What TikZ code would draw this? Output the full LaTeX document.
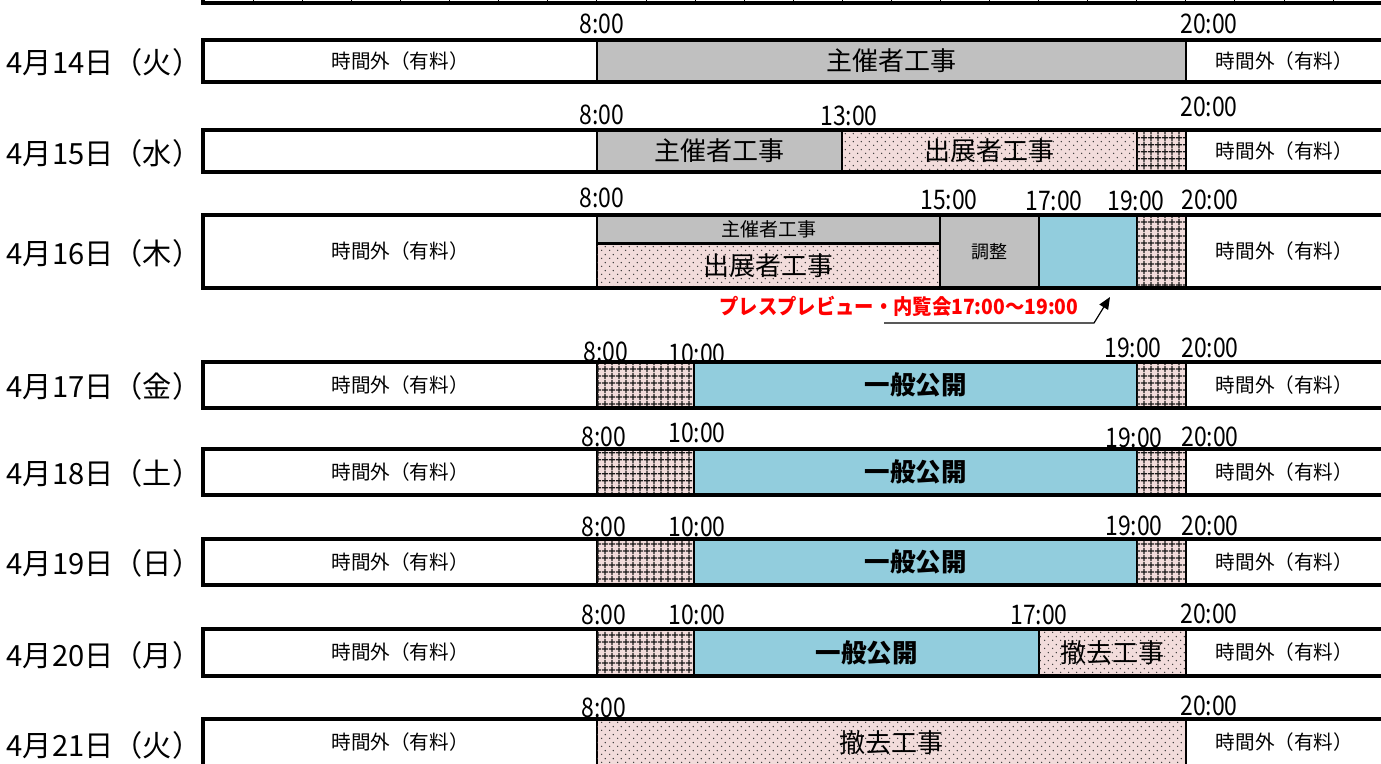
\documentclass[tikz,border=0pt]{standalone}
\usepackage{fontspec}
\setmainfont{Noto Sans CJK JP}
\usetikzlibrary{fit,patterns,arrows.meta}
\definecolor{orggrey}{RGB}{192,192,192}
\definecolor{pubblue}{RGB}{146,205,221}
\definecolor{pinkbg}{RGB}{242,220,219}
\definecolor{pressred}{RGB}{255,0,0}
\pgfdeclarepatternformonly{sdots}{\pgfqpoint{0pt}{0pt}}{\pgfqpoint{3.75pt}{3.75pt}}{\pgfqpoint{3.75pt}{3.75pt}}{%
 \pgfpathcircle{\pgfqpoint{0.9pt}{0.9pt}}{0.38pt}%
 \pgfpathcircle{\pgfqpoint{2.8pt}{2.8pt}}{0.38pt}%
 \pgfusepath{fill}}
\pgfdeclarepatternformonly{sgrid}{\pgfqpoint{0pt}{0pt}}{\pgfqpoint{3.5pt}{3.5pt}}{\pgfqpoint{3.5pt}{3.5pt}}{%
 \pgfsetlinewidth{0.7pt}%
 \pgfpathmoveto{\pgfqpoint{0pt}{1.75pt}}\pgfpathlineto{\pgfqpoint{3.5pt}{1.75pt}}%
 \pgfpathmoveto{\pgfqpoint{1.75pt}{0pt}}\pgfpathlineto{\pgfqpoint{1.75pt}{3.5pt}}%
 \pgfusepath{stroke}}
\newcommand\tmx[1]{\scalebox{0.85}[1]{#1}}
\begin{document}
\begin{tikzpicture}[x=0.5pt,y=-0.5pt,
  seg/.style={draw=black, line width=0.6pt, inner sep=0pt},
  rowbox/.style={draw=black, line width=1.6pt, inner sep=0pt},
  offt/.style={inner sep=0pt, font=\fontsize{9.8pt}{11pt}\selectfont},
  org/.style={seg, fill=orggrey},
  exh/.style={seg, fill=pinkbg, postaction={pattern=sdots, pattern color=black!80}},
  hatch/.style={seg, fill=pinkbg, postaction={pattern=sgrid, pattern color=black!90}},
  pub/.style={seg, fill=pubblue},
  big/.style={inner sep=0pt, font=\fontsize{13pt}{15pt}\selectfont},
  pubtxt/.style={inner sep=0pt, font=\fontsize{12.75pt}{15pt}\selectfont\bfseries},
  smallt/.style={inner sep=0pt, font=\fontsize{9.5pt}{11pt}\selectfont},
  date/.style={inner sep=0pt, font=\fontsize{14.6pt}{17pt}\selectfont},
  tm/.style={anchor=base, inner sep=0pt, font=\fontsize{13.5pt}{16pt}\selectfont},
  press/.style={inner sep=0pt, text=pressred, font=\fontsize{10.5pt}{12pt}\selectfont\bfseries}
]
\useasboundingbox (0,0) rectangle (1381,764);
\begin{scope}
\clip (0,0) rectangle (1381,764);
% partial previous row at the top
\coordinate (pa) at (203,-20);
\coordinate (pb) at (203,3);
\coordinate (pc) at (1400,3);
\draw[line width=1.6pt] (pa) -- (pb) -- (pc);
\foreach \k in {1,...,24}{
  \draw[line width=0.5pt] ({204.3+49.08*\k},-2) -- ({204.3+49.08*\k},3);
}

% ---------- Row 1 : 4/14
\node[date] (d1) at (104,62) {4月14日（火）};
\node[seg, fit={(203,40)(597,82)}, label={[offt]center:時間外（有料）}] (r1a) {};
\node[org, fit={(597,40)(1186,82)}, label={[big]center:主催者工事}] (r1b) {};
\node[seg, fit={(1186,40)(1383,82)}, label={[offt]center:時間外（有料）}] (r1c) {};
\node[rowbox, fit={(203,40)(1383,82)}] (row1) {};
\node[tm] (t1a) at (602,34) {\tmx{8:00}};
\node[tm] (t1b) at (1209,34) {\tmx{20:00}};

% ---------- Row 2 : 4/15
\node[date] (d2) at (104,153) {4月15日（水）};
\node[seg, fit={(203,130)(597,172)}] (r2a) {};
\node[org, fit={(597,130)(842,172)}, label={[big]center:主催者工事}] (r2b) {};
\node[exh, fit={(842,130)(1137,172)}, label={[big]center:出展者工事}] (r2c) {};
\node[hatch, fit={(1137,130)(1186,172)}] (r2d) {};
\node[seg, fit={(1186,130)(1383,172)}, label={[offt]center:時間外（有料）}] (r2e) {};
\node[rowbox, fit={(203,130)(1383,172)}] (row2) {};
\node[tm] (t2a) at (602,125) {\tmx{8:00}};
\node[tm] (t2b) at (849,126) {\tmx{13:00}};
\node[tm] (t2c) at (1209,117) {\tmx{20:00}};

% ---------- Row 3 : 4/16
\node[date] (d3) at (104,253) {4月16日（木）};
\node[seg, fit={(203,215)(597,288)}, label={[offt]center:時間外（有料）}] (r3a) {};
\node[org, fit={(597,215)(940,243)}, label={[smallt]center:主催者工事}] (r3b) {};
\node[exh, fit={(597,243)(940,288)}, label={[big]center:出展者工事}] (r3c) {};
\draw[line width=1.1pt] (r3b.south west) -- (r3b.south east);
\node[org, fit={(940,215)(1039,288)}, label={[offt, font=\fontsize{9pt}{11pt}\selectfont]center:調整}] (r3d) {};
\node[pub, fit={(1039,215)(1137,288)}] (r3e) {};
\node[hatch, fit={(1137,215)(1186,288)}] (r3f) {};
\node[seg, fit={(1186,215)(1383,288)}, label={[offt]center:時間外（有料）}] (r3g) {};
\node[rowbox, fit={(203,215)(1383,288)}] (row3) {};
\node[tm] (t3a) at (602,208) {\tmx{8:00}};
\node[tm] (t3b) at (949,210) {\tmx{15:00}};
\node[tm] (t3c) at (1054,211) {\tmx{17:00}};
\node[tm] (t3d) at (1136,211) {\tmx{19:00}};
\node[tm] (t3e) at (1210,210) {\tmx{20:00}};
% press preview annotation
\node[press] (pr) at (899,306) {\scalebox{0.92}[1]{プレスプレビュー・内覧会17:00～19:00}};
\coordinate (as) at (884,323);
\coordinate (am) at (1094,323);
\coordinate (at) at (1110,297);
\draw[line width=0.6pt, -{Triangle[length=6pt,width=5pt]}] (as) -- (am) -- (at);

% ---------- Rows 4-6 : 4/17 - 4/19 (public days)
\node[date] (d4) at (104,386) {4月17日（金）};
\node[seg, fit={(203,362)(597,408)}, label={[offt]center:時間外（有料）}] (r4a) {};
\node[hatch, fit={(597,362)(694,408)}] (r4b) {};
\node[pub, fit={(694,362)(1137,408)}, label={[pubtxt]center:一般公開}] (r4c) {};
\node[hatch, fit={(1137,362)(1186,408)}] (r4d) {};
\node[seg, fit={(1186,362)(1383,408)}, label={[offt]center:時間外（有料）}] (r4e) {};
\node[rowbox, fit={(203,362)(1383,408)}] (row4) {};
\node[tm] (t4a) at (606,362) {\tmx{8:00}};
\node[tm] (t4b) at (697,364) {\tmx{10:00}};
\node[tm] (t4c) at (1133,358) {\tmx{19:00}};
\node[tm] (t4d) at (1210,358) {\tmx{20:00}};

\node[date] (d5) at (104,473) {4月18日（土）};
\node[seg, fit={(203,449)(597,495)}, label={[offt]center:時間外（有料）}] (r5a) {};
\node[hatch, fit={(597,449)(694,495)}] (r5b) {};
\node[pub, fit={(694,449)(1137,495)}, label={[pubtxt]center:一般公開}] (r5c) {};
\node[hatch, fit={(1137,449)(1186,495)}] (r5d) {};
\node[seg, fit={(1186,449)(1383,495)}, label={[offt]center:時間外（有料）}] (r5e) {};
\node[rowbox, fit={(203,449)(1383,495)}] (row5) {};
\node[tm] (t5a) at (604,446) {\tmx{8:00}};
\node[tm] (t5b) at (697,443) {\tmx{10:00}};
\node[tm] (t5c) at (1134,448) {\tmx{19:00}};
\node[tm] (t5d) at (1210,446) {\tmx{20:00}};

\node[date] (d6) at (104,563) {4月19日（日）};
\node[seg, fit={(203,539)(597,585)}, label={[offt]center:時間外（有料）}] (r6a) {};
\node[hatch, fit={(597,539)(694,585)}] (r6b) {};
\node[pub, fit={(694,539)(1137,585)}, label={[pubtxt]center:一般公開}] (r6c) {};
\node[hatch, fit={(1137,539)(1186,585)}] (r6d) {};
\node[seg, fit={(1186,539)(1383,585)}, label={[offt]center:時間外（有料）}] (r6e) {};
\node[rowbox, fit={(203,539)(1383,585)}] (row6) {};
\node[tm] (t6a) at (604,536) {\tmx{8:00}};
\node[tm] (t6b) at (697,536) {\tmx{10:00}};
\node[tm] (t6c) at (1134,535) {\tmx{19:00}};
\node[tm] (t6d) at (1210,535) {\tmx{20:00}};

% ---------- Row 7 : 4/20
\node[date] (d7) at (104,655) {4月20日（月）};
\node[seg, fit={(203,629)(597,676)}, label={[offt]center:時間外（有料）}] (r7a) {};
\node[hatch, fit={(597,629)(694,676)}] (r7b) {};
\node[pub, fit={(694,629)(1039,676)}, label={[pubtxt]center:一般公開}] (r7c) {};
\node[exh, fit={(1039,629)(1186,676)}, label={[big]center:撤去工事}] (r7d) {};
\node[seg, fit={(1186,629)(1383,676)}, label={[offt]center:時間外（有料）}] (r7e) {};
\node[rowbox, fit={(203,629)(1383,676)}] (row7) {};
\node[tm] (t7a) at (604,624) {\tmx{8:00}};
\node[tm] (t7b) at (697,624) {\tmx{10:00}};
\node[tm] (t7c) at (1039,624) {\tmx{17:00}};
\node[tm] (t7d) at (1209,623) {\tmx{20:00}};

% ---------- Row 8 : 4/21
\node[date] (d8) at (104,745) {4月21日（火）};
\node[seg, fit={(203,719)(597,766)}, label={[offt]center:時間外（有料）}] (r8a) {};
\node[exh, fit={(597,719)(1186,766)}, label={[big]center:撤去工事}] (r8b) {};
\node[seg, fit={(1186,719)(1383,766)}, label={[offt]center:時間外（有料）}] (r8c) {};
\node[rowbox, fit={(203,719)(1383,766)}] (row8) {};
\node[tm] (t8a) at (604,717) {\tmx{8:00}};
\node[tm] (t8b) at (1209,715) {\tmx{20:00}};
\end{scope}
\end{tikzpicture}
\end{document}
